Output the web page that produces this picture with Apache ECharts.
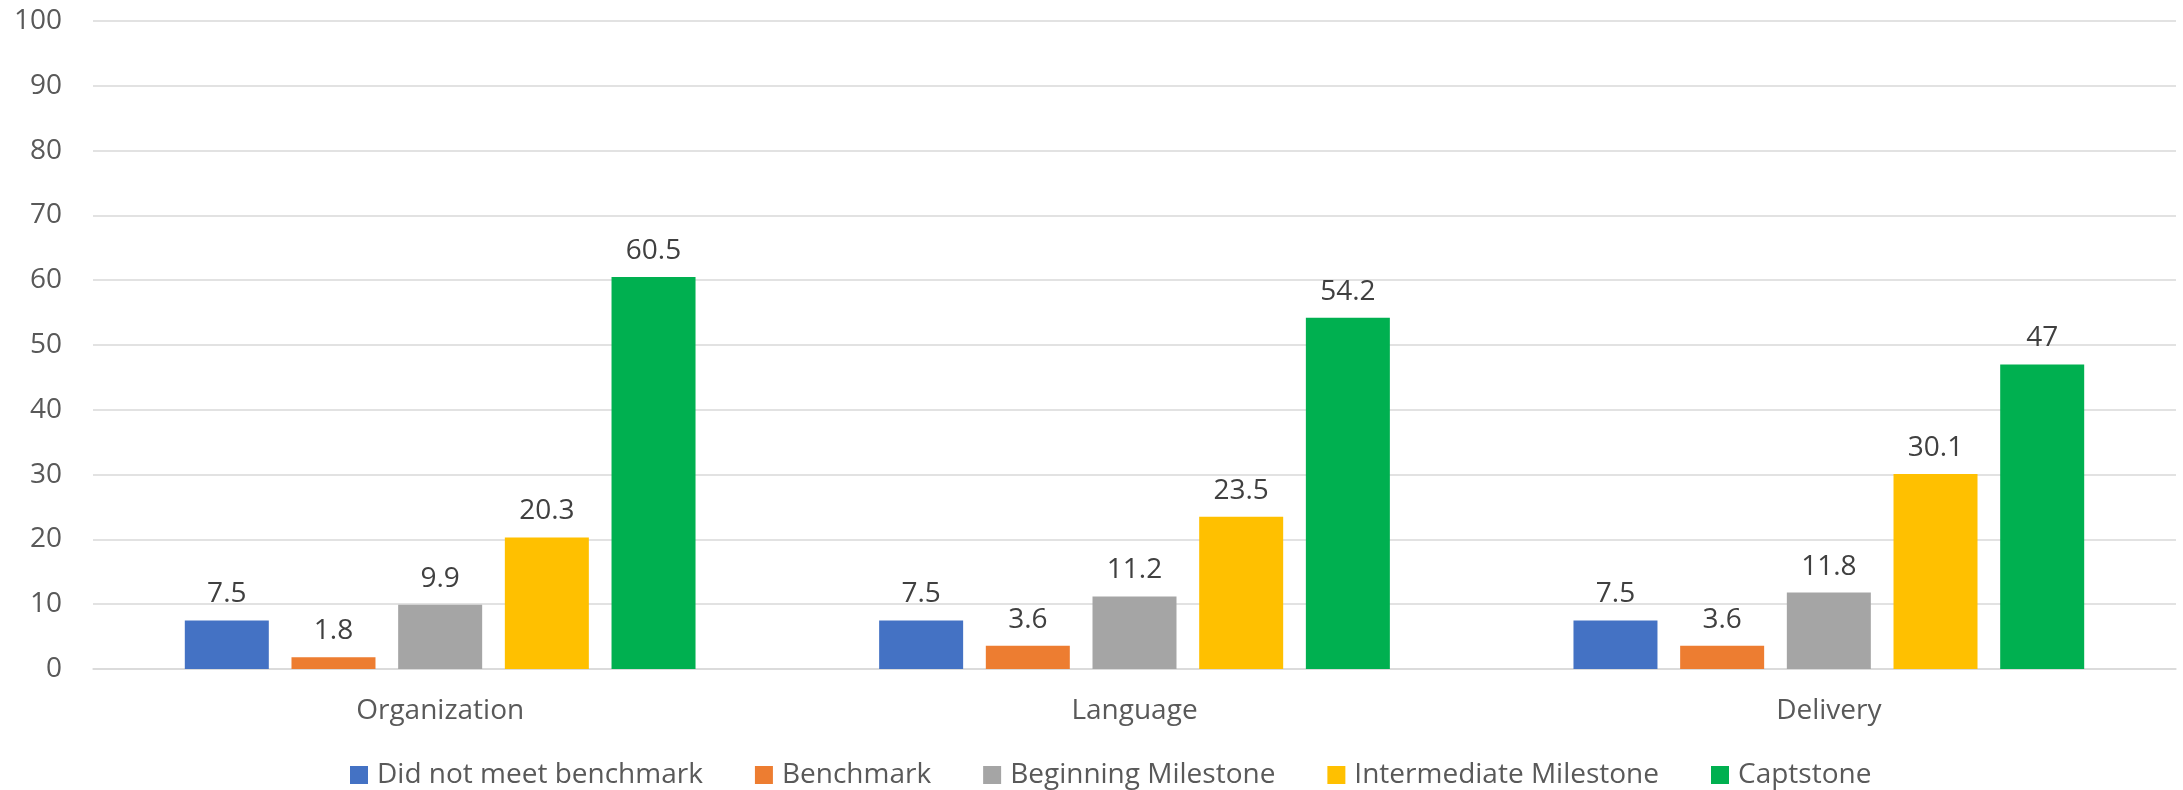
<!DOCTYPE html>
<html>
<head>
<meta charset="utf-8">
<script src="https://cdn.jsdelivr.net/npm/echarts@6/dist/echarts.min.js"></script>
<style>
  html, body { margin: 0; padding: 0; background: #fff; }
  #chart { width: 2183px; height: 790px; }
</style>
</head>
<body>
<div id="chart"></div>
<script>
var categories = ['Organization', 'Language', 'Delivery'];
var seriesNames = ['Did not meet benchmark', 'Benchmark', 'Beginning Milestone', 'Intermediate Milestone', 'Captstone'];
var didNotMeet = [7.5, 7.5, 7.5];
var benchmark = [1.8, 3.6, 3.6];
var beginning = [9.9, 11.2, 11.8];
var intermediate = [20.3, 23.5, 30.1];
var captstone = [60.5, 54.2, 47];
var colors = ['#4472C4', '#ED7D31', '#A5A5A5', '#FFC000', '#00B050'];

var values = [didNotMeet, benchmark, beginning, intermediate, captstone];
var font = '"Open Sans", "Noto Sans", sans-serif';

var chart = echarts.init(document.getElementById('chart'));

var series = values.map(function (v, i) {
    return {
        name: seriesNames[i],
        type: 'bar',
        data: v,
        barWidth: 84,
        barGap: '27%',
        itemStyle: { color: colors[i] },
        label: {
            show: true,
            position: 'top',
            distance: 12,
            color: '#404040',
            fontSize: 28,
            fontFamily: font
        }
    };
});

chart.setOption({
    animation: false,
    color: colors,
    grid: { left: 93, right: 7, top: 21, bottom: 121 },
    legend: {
        data: seriesNames,
        top: 756,
        left: 345,
        itemWidth: 18,
        itemHeight: 18,
        itemGap: 52,
        icon: 'rect',
        textStyle: { color: '#595959', fontSize: 28, fontFamily: font, padding: [0, 0, 0, 4] }
    },
    xAxis: {
        type: 'category',
        data: categories,
        axisLine: { show: true, lineStyle: { color: '#D9D9D9', width: 1.5 } },
        axisTick: { show: false },
        axisLabel: { color: '#595959', fontSize: 28, fontFamily: font, margin: 28 }
    },
    yAxis: {
        type: 'value',
        min: 0,
        max: 100,
        interval: 10,
        axisLine: { show: false },
        axisTick: { show: false },
        splitLine: { lineStyle: { color: '#D9D9D9', width: 1.5 } },
        axisLabel: { color: '#595959', fontSize: 28, fontFamily: font, margin: 31 }
    },
    series: series
});
</script>
</body>
</html>
